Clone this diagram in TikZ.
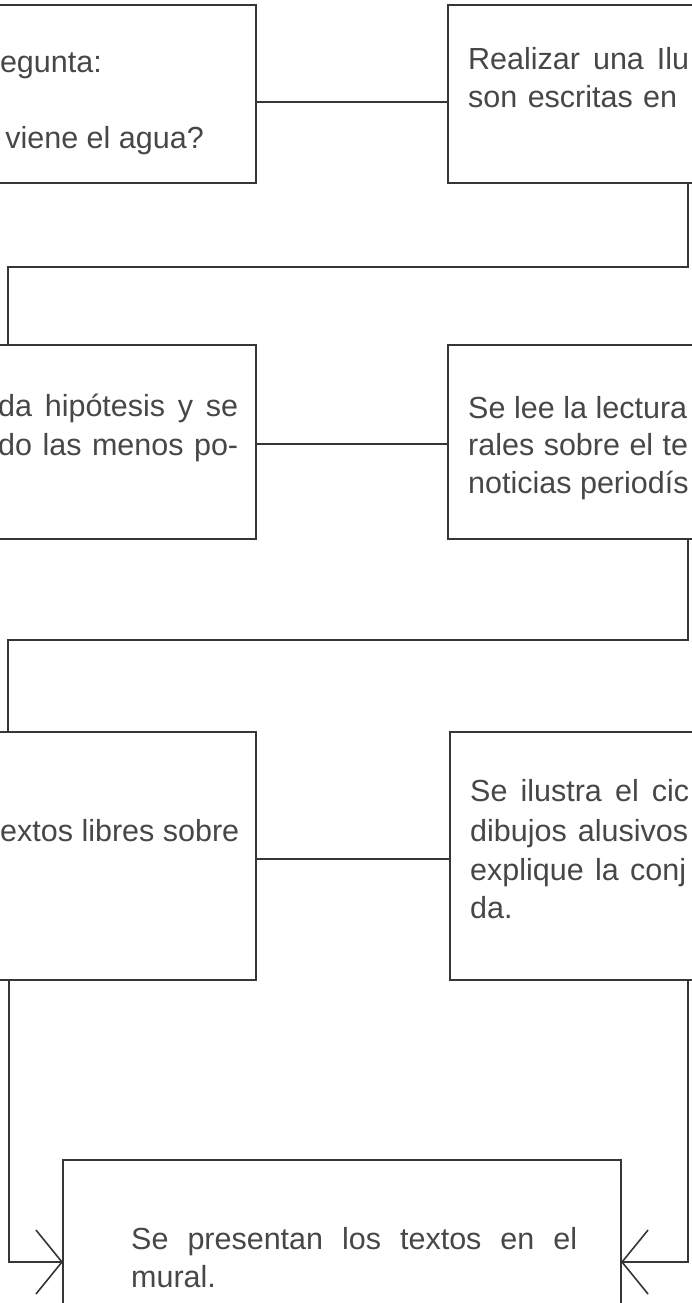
\documentclass[tikz,border=0pt]{standalone}
\usepackage{fontspec}
\setmainfont{Liberation Sans}
\usetikzlibrary{arrows.meta}
\definecolor{linec}{HTML}{363636}
\definecolor{txtc}{HTML}{474747}
\newcommand{\tfnt}{\fontsize{30.5}{36}\selectfont}
\begin{document}
\begin{tikzpicture}[x=1pt,y=-1pt,
  box/.style={draw=linec, line width=1.6pt, rectangle, inner sep=0pt, outer sep=0pt},
  conn/.style={draw=linec, line width=1.6pt},
  txt/.style={inner sep=0pt, anchor=base west, font=\tfnt, text=txtc},
  tip/.style={-{Straight Barb[length=26pt,width=64pt,line width=1.6pt]}}]
\useasboundingbox (0,0) rectangle (691,1303);
\fill[white] (0,0) rectangle (691,1303);
% boxes
\node[box, minimum width=286pt, minimum height=178pt] (b1) at (113,94) {};
\node[box, minimum width=282pt, minimum height=178pt] (b2) at (589,94) {};
\node[box, minimum width=286pt, minimum height=194pt] (b3) at (113,442) {};
\node[box, minimum width=282pt, minimum height=194pt] (b4) at (589,442) {};
\node[box, minimum width=286pt, minimum height=248pt] (b5) at (113,856) {};
\node[box, minimum width=280pt, minimum height=248pt] (b6) at (590,856) {};
\node[box, minimum width=558pt, minimum height=170pt] (b7) at (342,1245) {};
% texts
\node[txt, anchor=base east] (t1a) at (102,73) {egunta:};
\node[txt, anchor=base east] (t1b) at (204,148) {viene el agua?};
\node[txt] (t2a) at (468,70) {\makebox[221pt][s]{Realizar una Ilu}};
\node[txt] (t2b) at (468,108) {\makebox[209pt][s]{son escritas en}};
\node[txt] (t3a) at (-2,416) {\makebox[240pt][s]{da hipótesis y se}};
\node[txt] (t3b) at (-2,455) {\makebox[240pt][s]{do las menos po-}};
\node[txt] (t4a) at (468,418) {\makebox[219pt][s]{Se lee la lectura}};
\node[txt] (t4b) at (468,455) {\makebox[220pt][s]{rales sobre el te}};
\node[txt] (t4c) at (468,493) {noticias periodís};
\node[txt] (t5a) at (0,841) {\makebox[239pt][s]{extos libres sobre}};
\node[txt] (t6a) at (470,801) {\makebox[219pt][s]{Se ilustra el cic}};
\node[txt] (t6b) at (470,841) {\makebox[218pt][s]{dibujos alusivos}};
\node[txt] (t6c) at (470,880) {\makebox[216pt][s]{explique la conj}};
\node[txt] (t6d) at (470,918) {da.};
\node[txt] (t7a) at (131,1249) {\makebox[446pt][s]{Se presentan los textos en el}};
\node[txt] (t7b) at (131,1287) {mural.};
% connectors
\coordinate (r1) at (0,102);
\coordinate (r2) at (0,444);
\coordinate (r3) at (0,859);
\draw[conn] (b1.east |- r1) -- (b2.west |- r1);
\draw[conn] (b3.east |- r2) -- (b4.west |- r2);
\draw[conn] (b5.east |- r3) -- (b6.west |- r3);
\coordinate (l1a) at (688,267);
\coordinate (l1b) at (8,267);
\draw[conn] (b2.south -| l1a) -- (l1a) -- (l1b) -- (b3.north -| l1b);
\coordinate (l2a) at (688,640);
\coordinate (l2b) at (8,640);
\draw[conn] (b4.south -| l2a) -- (l2a) -- (l2b) -- (b5.north -| l2b);
\coordinate (a1) at (9,1262);
\coordinate (a2) at (688,1262);
\draw[conn, tip] (b5.south -| a1) -- (a1) -- (b7.west |- a1);
\draw[conn, tip] (b6.south -| a2) -- (a2) -- (b7.east |- a2);
\end{tikzpicture}
\end{document}
